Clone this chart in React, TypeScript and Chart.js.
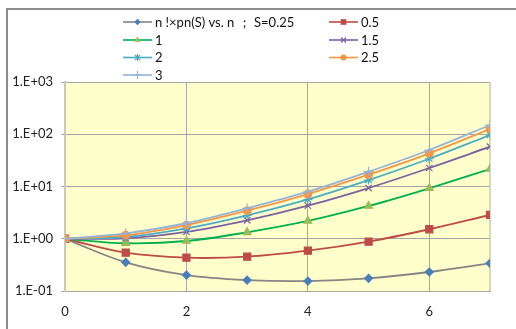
import React, { useEffect, useRef } from 'react';
import { Chart, registerables } from 'chart.js';

Chart.register(...registerables);

const nValues = [0, 1, 2, 3, 4, 5, 6, 7];
const seriesLabels = ['n !×pn(S) vs. n ； S=0.25', '0.5', '1', '1.5', '2', '2.5', '3'];
const sA = [1, 0.354, 0.202, 0.162, 0.155, 0.175, 0.231, 0.339];
const sB = [1, 0.54, 0.434, 0.453, 0.59, 0.88, 1.52, 2.85];
const sC = [1, 0.82, 0.905, 1.33, 2.19, 4.24, 9.25, 21.6];
const sD = [1, 1.02, 1.35, 2.25, 4.3, 9.35, 22.6, 57.8];
const sE = [1, 1.08, 1.58, 2.81, 5.69, 13.3, 34.0, 96.8];
const sF = [1, 1.17, 1.83, 3.44, 7.18, 16.8, 43.2, 126];
const sG = [1, 1.27, 1.98, 3.83, 7.94, 19.2, 50, 150];
const seriesValues = [sA, sB, sC, sD, sE, sF, sG];
const yTickValues = [0.1, 1, 10, 100, 1000];
const xTickValues = [0, 2, 4, 6];

const styles = [
  { line: '#858585', fill: '#4A7EBB', marker: 'rectRot', r: 4 },
  { line: '#BE4B48', fill: '#BE4B48', marker: 'rect', r: 5 },
  { line: '#00B050', fill: '#9BBB59', marker: 'triangle', r: 4.5 },
  { line: '#7D60A0', fill: '#7D60A0', marker: 'crossRot', r: 4.5 },
  { line: '#4BACC6', fill: '#4BACC6', marker: 'star', r: 4.5 },
  { line: '#F79646', fill: '#F79646', marker: 'circle', r: 3.8 },
  { line: '#95B3D7', fill: '#95B3D7', marker: 'cross', r: 5 },
];

const FONT = 'Lato, "Liberation Sans", sans-serif';

function drawMarker(ctx: CanvasRenderingContext2D, kind: string, x: number, y: number, r: number, color: string) {
  ctx.save();
  ctx.fillStyle = color;
  ctx.strokeStyle = color;
  ctx.lineWidth = 1.2;
  ctx.beginPath();
  if (kind === 'rectRot') {
    ctx.moveTo(x, y - r); ctx.lineTo(x + r, y); ctx.lineTo(x, y + r); ctx.lineTo(x - r, y); ctx.closePath(); ctx.fill();
  } else if (kind === 'rect') {
    const h = r * 0.707; ctx.rect(x - h, y - h, 2 * h, 2 * h); ctx.fill();
  } else if (kind === 'triangle') {
    ctx.moveTo(x, y - r); ctx.lineTo(x + r * 0.87, y + r * 0.5); ctx.lineTo(x - r * 0.87, y + r * 0.5); ctx.closePath(); ctx.fill();
  } else if (kind === 'circle') {
    ctx.arc(x, y, r, 0, Math.PI * 2); ctx.fill();
  } else if (kind === 'crossRot') {
    const h = r * 0.707; ctx.moveTo(x - h, y - h); ctx.lineTo(x + h, y + h); ctx.moveTo(x + h, y - h); ctx.lineTo(x - h, y + h); ctx.stroke();
  } else if (kind === 'star') {
    const h = r * 0.707; ctx.moveTo(x - h, y - h); ctx.lineTo(x + h, y + h); ctx.moveTo(x + h, y - h); ctx.lineTo(x - h, y + h);
    ctx.moveTo(x, y - r); ctx.lineTo(x, y + r); ctx.stroke();
  } else if (kind === 'cross') {
    ctx.moveTo(x, y - r); ctx.lineTo(x, y + r); ctx.moveTo(x - r, y); ctx.lineTo(x + r, y); ctx.stroke();
  }
  ctx.restore();
}

const bgPlugin = {
  id: 'plotBg',
  beforeDraw(chart: any) {
    const { ctx, chartArea } = chart;
    const { left, top, right, bottom } = chartArea;
    ctx.save();
    ctx.fillStyle = '#FFFFCC';
    ctx.fillRect(left, top, right - left, bottom - top);
    ctx.restore();
  },
  beforeDatasetsDraw(chart: any) {
    const { ctx, chartArea } = chart;
    ctx.save();
    ctx.strokeStyle = '#c8c8c0';
    ctx.lineWidth = 1.5;
    ctx.beginPath();
    ctx.moveTo(chartArea.right, chartArea.top);
    ctx.lineTo(chartArea.right, chartArea.bottom);
    ctx.stroke();
    ctx.restore();
  },
};

const legendPlugin = {
  id: 'customLegend',
  afterDraw(chart: any) {
    const ctx: CanvasRenderingContext2D = chart.ctx;
    const cols = [123, 329];
    const rows = [22, 40, 57.5, 75];
    ctx.save();
    ctx.font = `13px ${FONT}`;
    ctx.textBaseline = 'middle';
    ctx.fillStyle = '#111';
    seriesLabels.forEach((label, i) => {
      const x0 = cols[i % 2];
      const y = rows[Math.floor(i / 2)];
      const st = styles[i];
      ctx.strokeStyle = st.line;
      ctx.lineWidth = 1.6;
      ctx.beginPath();
      ctx.moveTo(x0, y);
      ctx.lineTo(x0 + 29, y);
      ctx.stroke();
      drawMarker(ctx, st.marker, x0 + 14.5, y, st.r * 0.8, st.fill);
      ctx.fillStyle = '#111';
      ctx.fillText(label, x0 + 32, y + 0.5);
    });
    ctx.restore();
  },
};

export default function App() {
  const ref = useRef<HTMLCanvasElement>(null);
  useEffect(() => {
    document.body.style.margin = '0';
    const datasets = seriesValues.map((vals, i) => ({
      label: seriesLabels[i],
      data: nValues.map((n, j) => ({ x: n, y: vals[j] })),
      borderColor: styles[i].line,
      backgroundColor: styles[i].fill,
      pointStyle: styles[i].marker as any,
      pointRadius: styles[i].r,
      pointBackgroundColor: styles[i].fill,
      pointBorderColor: styles[i].fill,
      pointBorderWidth: 1.2,
      borderWidth: 1.8,
      tension: 0.35,
      fill: false,
      order: 6 - i,
    }));
    const chart = new Chart(ref.current!, {
      type: 'line',
      data: { datasets },
      plugins: [bgPlugin, legendPlugin],
      options: {
        animation: false,
        responsive: false,
        devicePixelRatio: 1,
        layout: { padding: { left: 0, top: 82, right: 26, bottom: 0 } },
        plugins: { legend: { display: false }, tooltip: { enabled: false } },
        scales: {
          x: {
            type: 'linear',
            min: 0,
            max: 7,
            afterBuildTicks: (s: any) => { s.ticks = xTickValues.map((v) => ({ value: v })); },
            afterFit: (s: any) => { s.height = 38; },
            grid: { color: '#a6a6a6', drawTicks: false, lineWidth: 1 },
            border: { display: true, color: '#a6a6a6', width: 1 },
            ticks: { font: { family: FONT, size: 13 }, color: '#222', padding: 13, maxRotation: 0 },
          },
          y: {
            type: 'logarithmic',
            min: 0.1,
            max: 1000,
            afterBuildTicks: (s: any) => { s.ticks = yTickValues.map((v) => ({ value: v, major: true })); },
            afterFit: (s: any) => { s.width = 65; },
            grid: { color: '#a6a6a6', drawTicks: true, tickLength: 4, lineWidth: 1 },
            border: { display: true, color: '#c8c8c8', width: 2 },
            ticks: {
              font: { family: FONT, size: 13 },
              color: '#222',
              padding: 8,
              callback: (v: any) => {
                const e = Math.round(Math.log10(Number(v)));
                const sign = e < 0 ? '-' : '+';
                return `1.E${sign}${String(Math.abs(e)).padStart(2, '0')}`;
              },
            },
          },
        },
      },
    });
    return () => chart.destroy();
  }, []);
  return (
    <div style={{ position: 'relative', width: 516, height: 329, overflow: 'hidden', background: '#fff' }}>
      <canvas ref={ref} width={516} height={329} style={{ display: 'block' }} />
      <div style={{ position: 'absolute', left: 6, top: 8, width: 600, height: 400, border: '2px solid #8c8c8c', boxSizing: 'border-box', pointerEvents: 'none' }} />
    </div>
  );
}
